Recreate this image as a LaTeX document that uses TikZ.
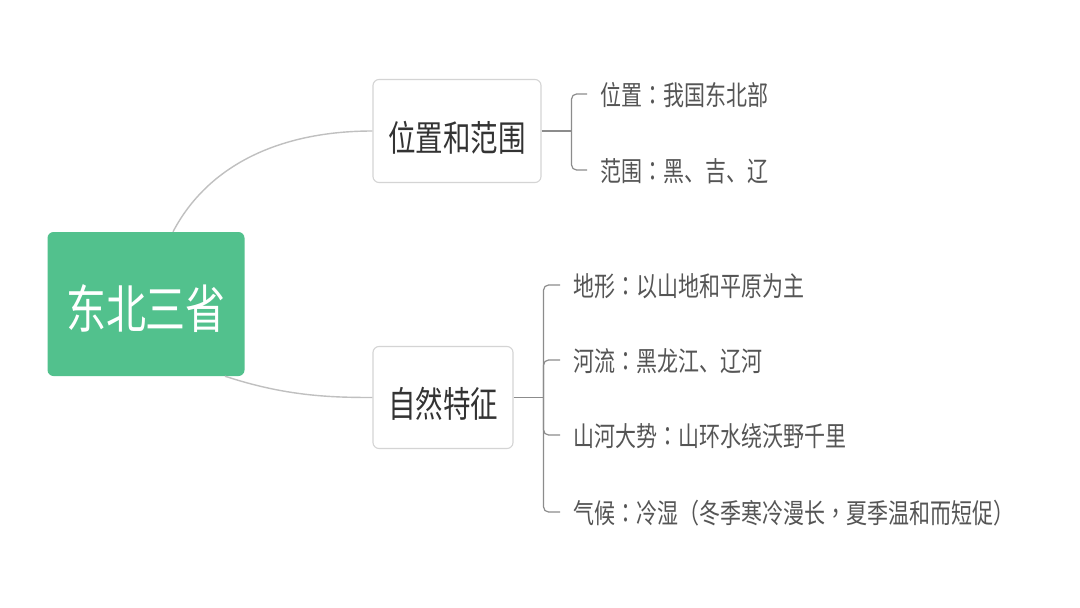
\documentclass[tikz,border=0pt]{standalone}
\usepackage{graphicx}
\usepackage{fontspec}
\setmainfont{Noto Sans CJK SC}
\newfontfamily\tcfont{Noto Sans CJK TC}
\newcommand{\cco}{{\tcfont ：}}
\newcommand{\ccm}{{\tcfont ，}}
\newcommand{\cpl}{{\tcfont （}}
\newcommand{\cpr}{{\tcfont ）}}
\newcommand{\tall}[1]{\scalebox{1}[1.3]{#1}}
\usetikzlibrary{calc}
\definecolor{rootgreen}{RGB}{82,193,141}
\definecolor{boxline}{RGB}{212,212,212}
\definecolor{connline}{RGB}{192,192,192}
\definecolor{brline}{RGB}{140,140,140}
\definecolor{boxtext}{RGB}{51,51,51}
\definecolor{leaftext}{RGB}{85,85,85}
\tikzset{
  rootbox/.style={fill=rootgreen, draw=none, rounded corners=6pt, text=white,
    font=\fontsize{40}{40}\selectfont, minimum width=197pt, minimum height=144pt, inner sep=0pt,
    text height=50.5pt, text depth=1.2pt},
  subbox/.style={draw=boxline, line width=1.1pt, fill=white, rounded corners=6pt, text=boxtext,
    font=\fontsize{27.5}{28}\selectfont, inner sep=0pt, text height=41.8pt, text depth=1.2pt},
  leaf/.style={anchor=west, inner sep=0pt, text=leaftext, font=\fontsize{21}{21}\selectfont,
    text height=23.4pt, text depth=1.2pt},
  conn/.style={draw=connline, line width=1.4pt},
  brk/.style={draw=brline, line width=1.2pt, rounded corners=5pt},
}
\begin{document}
\begin{tikzpicture}[x=1pt,y=-1pt]
\useasboundingbox (0,0) rectangle (1080,608);
\fill[white] (0,0) rectangle (1080,608);

\node[rootbox] (root) at (146,304) {\tall{东北三省}};
\node[subbox, minimum width=168pt, minimum height=103pt] (b1) at (457,131) {\tall{位置和范围}};
\node[subbox, minimum width=140pt, minimum height=102pt] (b2) at (443,397.5) {\tall{自然特征}};

\node[leaf] (l1) at (600,94) {\tall{位置\cco 我国东北部}};
\node[leaf] (l2) at (600,170) {\tall{范围\cco 黑、吉、辽}};
\node[leaf] (l3) at (573,285) {\tall{地形\cco 以山地和平原为主}};
\node[leaf] (l4) at (573,360) {\tall{河流\cco 黑龙江、辽河}};
\node[leaf] (l5) at (573,435) {\tall{山河大势\cco 山环水绕沃野千里}};
\node[leaf] (l6) at (573,512) {\tall{气候\cco 冷湿\cpl 冬季寒冷漫长\ccm 夏季温和而短促\cpr}};

% root connectors
\draw[conn] ([xshift=27pt]root.north) .. controls (208,165) and (280,131) .. (b1.west);
\draw[conn] ([xshift=79pt]root.south) .. controls (285,396) and (330,397.5) .. (b2.west);

% bracket 1
\coordinate (j1) at ([xshift=30pt]b1.east);
\draw[brk] (b1.east) -- (j1);
\draw[brk] ([xshift=-13pt]l1.west) -| (j1) |- ([xshift=-13pt]l2.west);

% bracket 2
\coordinate (j2) at ([xshift=30pt]b2.east);
\draw[brk] (b2.east) -- (j2);
\draw[brk] ([xshift=-13pt]l3.west) -| (j2) |- ([xshift=-13pt]l6.west);
\draw[brk] ([xshift=-13pt]l4.west) -| (j2);
\draw[brk] ([xshift=-13pt]l5.west) -| (j2);
\end{tikzpicture}
\end{document}
